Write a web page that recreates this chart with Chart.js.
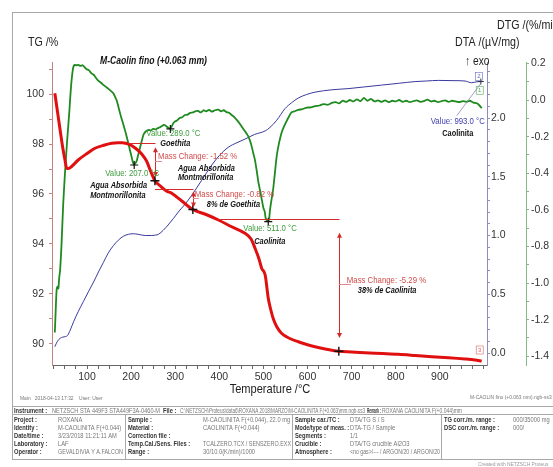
<!DOCTYPE html>
<html>
<head>
<meta charset="utf-8">
<title>M-Caolin fino (+0.063 mm) — TG / DTA / DTG</title>
<script src="https://cdn.jsdelivr.net/npm/chart.js@4.4.1/dist/chart.umd.min.js"></script>
<style>
  html, body { margin: 0; padding: 0; background: #fff; }
  canvas { display: block; }
</style>
</head>
<body>
<canvas id="c" width="553" height="467" style="width:553px;height:467px"></canvas>
<script>
// ---------------- measured curves ----------------
// TG: residual mass (%) against temperature (°C)
const tgTemp = [27,33,39,45,50,54,58,65,80,100,
                118,140,156,170,179,190,201,212,224,235,
                245,254,265,280,292,315,340,370,398,428,
                458,472,481,490,496,504,511,517,522,530,
                541,560,579,600,617,640,671,700,730,770,
                806,845,882,920,957,980,995];
const tgMass = [100.03,99.3,98.56,97.85,97.36,97.03,97.02,97.1,97.36,97.62,
                97.83,97.96,98.03,98.05,98.05,98.02,97.94,97.8,97.6,97.32,
                96.88,96.53,96.34,96.12,96.03,95.72,95.38,95.18,94.96,94.69,
                94.43,94.2,93.83,93.4,93.03,92.76,91.83,91.35,91.03,90.7,
                90.43,90.22,90.09,89.97,89.89,89.8,89.71,89.68,89.65,89.62,
                89.59,89.54,89.49,89.45,89.40,89.36,89.32];

// DTA: µV/mg against temperature (°C)
const dtaTemp = [27,33,39,45,50,56,62,70,80,92,
                 103,115,126,137,148,160,171,183,194,205,
                 216,232,247,255,262,273,284,296,307,322,
                 337,360,383,400,420,440,458,480,504,515,
                 530,549,564,579,598,617,655,692,730,768,
                 806,844,870,897,930,957,972,987,993];
const dtaSignal = [0.054,0.10,0.125,0.135,0.139,0.15,0.196,0.27,0.352,0.44,
                   0.52,0.605,0.69,0.77,0.85,0.915,0.96,0.995,1.01,1.015,
                   1.01,1.0,1.0,1.003,1.01,1.045,1.09,1.145,1.20,1.265,
                   1.34,1.47,1.60,1.68,1.75,1.79,1.82,1.86,1.89,1.92,
                   1.98,2.08,2.13,2.17,2.20,2.22,2.24,2.25,2.265,2.28,
                   2.295,2.31,2.315,2.32,2.318,2.315,2.30,2.31,2.31];

// DTG: %/min against temperature (°C)
const dtgTemp = [27,29,31,33,35,37,39,42,46,50,
                 55,60,63,66,69,72,76,80,85,90,
                 95,99,104,110,115,120,126,132,136,141,
                 148,156,160,164,167,171,175,180,186,192,
                 197,201,204,207,210,213,216,220,224,228,
                 233,239,245,250,256,262,266,270,274,277,
                 281,285,289,293,296,299,304,310,316,322,
                 328,334,340,345,352,358,364,370,377,383,
                 390,398,404,410,416,422,428,434,440,446,
                 451,458,466,472,477,481,485,488,492,496,
                 500,503,505,508,511,513,515,518,522,526,
                 530,535,541,546,552,558,564,570,579,588,
                 598,608,617,627,636,646,655,664,672,680,
                 688,696,704,712,720,728,736,744,752,760,
                 768,776,784,792,800,808,816,824,832,840,
                 848,856,864,872,880,888,896,904,912,920,
                 928,936,944,952,960,968,976,984,990,995];
const dtgRate = [-1.27,-1.15,-1.04,-1.02,-1.03,-0.97,-0.93,-0.80,-0.57,-0.40,
                 -0.22,-0.06,0.05,0.13,0.18,0.192,0.19,0.192,0.186,0.19,
                 0.178,0.168,0.163,0.146,0.138,0.122,0.104,0.094,0.084,0.076,
                 0.062,0.046,0.036,0.016,0.0,-0.035,-0.073,-0.115,-0.164,-0.22,
                 -0.27,-0.31,-0.34,-0.355,-0.345,-0.33,-0.30,-0.262,-0.225,-0.19,
                 -0.172,-0.164,-0.166,-0.158,-0.16,-0.152,-0.148,-0.142,-0.136,-0.138,
                 -0.146,-0.152,-0.158,-0.14,-0.126,-0.118,-0.112,-0.098,-0.094,-0.082,
                 -0.08,-0.07,-0.068,-0.062,-0.06,-0.068,-0.056,-0.062,-0.054,-0.064,
                 -0.056,-0.053,-0.062,-0.056,-0.066,-0.07,-0.082,-0.094,-0.11,-0.128,
                 -0.146,-0.17,-0.20,-0.24,-0.29,-0.33,-0.39,-0.44,-0.49,-0.54,
                 -0.59,-0.61,-0.645,-0.66,-0.665,-0.65,-0.60,-0.55,-0.49,-0.40,
                 -0.31,-0.24,-0.18,-0.148,-0.118,-0.09,-0.066,-0.062,-0.054,-0.05,
                 -0.042,-0.04,-0.034,-0.03,-0.022,-0.026,-0.016,-0.012,-0.018,-0.004,
                 -0.01,0.0,-0.008,0.004,-0.006,0.012,-0.004,0.006,-0.008,-0.002,
                 -0.01,-0.002,-0.012,-0.004,-0.008,0.0,-0.01,-0.004,-0.012,-0.006,
                 -0.002,-0.01,-0.006,0.002,-0.008,-0.004,-0.012,-0.006,-0.002,-0.01,
                 -0.004,-0.008,-0.012,-0.006,-0.01,-0.004,-0.014,-0.018,-0.03,-0.045];

// ---------------- evaluated events ----------------
const dtgPeakTemps = [207, 289, 511];
const dtgPeakNotes = [["Agua Absorbida", "Montmorillonita"], ["Goethita"], ["Caolinita"]];
const dtaPeakTemps = [993];
const dtaPeakNotes = [["Caolinita"]];

const massChangeTemps  = [254, 340, 671];      // where each step is read
const massRefStart     = [193, 254, 397];      // start of the reference level line
const massRefLevels    = [98.05, 96.20, 95.00]; // TG level before the step (%)
const massChangeValues = [-1.52, -0.82, -5.29]; // mass change (%)
const massChangeNotes  = [["Agua Absorbida", "Montmorillonita"], ["8% de Goethita"], ["38% de Caolinita"]];

// ---------------- axis ticks ----------------
const range = (a, b, step) => { const out = []; for (let v = a; v <= b + 1e-9; v += step) out.push(Math.round(v * 100) / 100); return out; };
const xTickValues   = range(25, 1000, 25);
const tgTickValues  = range(90, 101, 1);
const dtaTickValues = range(0, 2.4, 0.1);
const dtgTickValues = range(-1.4, 0.2, 0.1);

// ---------------- presentation ----------------
const SANS = '"Liberation Sans", Arial, sans-serif';
const SX = 0.82; // horizontal squeeze giving the narrow lettering
const C_TG = '#e01010', C_DTA = '#3a3a9e', C_DTG = '#1f8a1f';
const C_TG_AX = '#c48484', C_DTA_AX = '#8c8cc0', C_DTG_AX = '#86b886';

const pts = (xs, ys) => xs.map((x, i) => ({ x, y: ys[i] }));
const valueAt = (xs, ys, t) => ys[xs.indexOf(t)];

const tgCross  = massChangeTemps.map((t, i) => ({ x: t, y: massRefLevels[i] + massChangeValues[i] }));
const dtgCross = dtgPeakTemps.map(t => ({ x: t, y: valueAt(dtgTemp, dtgRate, t) }));
const dtaCross = dtaPeakTemps.map(t => ({ x: t, y: valueAt(dtaTemp, dtaSignal, t) }));

function fixedTicks(values) { return s => { s.ticks = values.map(v => ({ value: v })); }; }

function text(ctx, s, x, y, font, color, align, maxW) {
  ctx.save();
  ctx.translate(x, y); ctx.scale(SX, 1);
  ctx.font = font + ' ' + SANS; ctx.fillStyle = color; ctx.textAlign = align || 'left'; ctx.textBaseline = 'middle';
  if (maxW) ctx.fillText(s, 0, 0, maxW / SX); else ctx.fillText(s, 0, 0);
  ctx.restore();
}
function seg(ctx, x0, y0, x1, y1) { ctx.beginPath(); ctx.moveTo(x0, y0); ctx.lineTo(x1, y1); ctx.stroke(); }
function head(ctx, x, y, dir) { // dir: -1 up, +1 down
  ctx.beginPath(); ctx.moveTo(x, y); ctx.lineTo(x - 2.5, y - dir * 5); ctx.lineTo(x + 2.5, y - dir * 5); ctx.closePath(); ctx.fill();
}

const decorations = {
  id: 'decorations',
  beforeDraw(chart) {
    const ctx = chart.ctx;
    ctx.save(); ctx.fillStyle = '#fff'; ctx.fillRect(0, 0, chart.width, chart.height); ctx.restore();
  },
  afterDatasetsDraw(chart) {
    const { ctx } = chart; const { x, tg } = chart.scales;
    ctx.save();
    ctx.strokeStyle = '#d42a2a'; ctx.fillStyle = '#d42a2a'; ctx.lineWidth = 1;
    massChangeTemps.forEach((t, i) => {
      const xa = Math.round(x.getPixelForValue(t)) + 0.5;
      const x0 = x.getPixelForValue(massRefStart[i]);
      const y0 = Math.round(tg.getPixelForValue(massRefLevels[i])) + 0.5;
      const y1 = tg.getPixelForValue(massRefLevels[i] + massChangeValues[i]);
      seg(ctx, x0, y0, xa, y0);
      const gap = (y1 - y0) * 0.1;
      seg(ctx, xa, y0 + gap + 2, xa, y1 - gap - 2);
      head(ctx, xa, y0 + gap, -1);
      head(ctx, xa, y1 - gap, 1);
    });
    ctx.restore();
  },
  afterDraw(chart) {
    const { ctx } = chart; const { x, tg, dta, dtg } = chart.scales;
    ctx.save();

    // outer frame and table box
    ctx.strokeStyle = '#a8a8a8'; ctx.lineWidth = 1;
    ctx.strokeRect(12.5, 12.5, 560, 447);
    seg(ctx, 12, 406.5, 553, 406.5);
    seg(ctx, 12, 414.5, 553, 414.5);
    [125.5, 292.5, 441.5].forEach(cx => seg(ctx, cx, 414.5, cx, 460));

    // axis titles
    text(ctx, 'TG /%', 28, 42, '13px', '#222');
    text(ctx, 'DTG /(%/min)', 497, 25, '13px', '#222');
    text(ctx, 'DTA /(\u00b5V/mg)', 455, 42, '13px', '#222');
    text(ctx, '\u2191 exo', 465, 62, '12.5px', '#222');
    text(ctx, 'Temperature /\u00b0C', 270, 389, '13.5px', '#222', 'center');
    text(ctx, 'M-Caolin fino (+0.063 mm)', 100, 61, 'italic bold 10.5px', '#111');

    const BI = 'italic bold 9px';
    const SMALL = '9.5px';

    // DTG peaks
    const dtgOff = [{ dx: -29, dy: 8, nx: -44, ny: 21 }, { dx: -24, dy: 4, nx: -10, ny: 15 }, { dx: -25, dy: 7, nx: -14, ny: 20 }];
    dtgCross.forEach((p, i) => {
      const px = x.getPixelForValue(p.x), py = dtg.getPixelForValue(p.y), o = dtgOff[i];
      text(ctx, 'Value: ' + p.x.toFixed(1) + ' \u00b0C', px + o.dx, py + o.dy, SMALL, '#3f9d3f');
      dtgPeakNotes[i].forEach((n, k) => text(ctx, n, px + o.nx, py + o.ny + k * 10, BI, '#111'));
    });

    // DTA peak
    dtaCross.forEach((p, i) => {
      const px = x.getPixelForValue(p.x), py = dta.getPixelForValue(p.y);
      ctx.strokeStyle = '#8a8ab0'; ctx.lineWidth = 0.8;
      seg(ctx, px, py + 2, px - 24, py + 34);
      text(ctx, 'Value: ' + p.x.toFixed(1) + ' \u00b0C', px + 4, py + 40, SMALL, '#4040b0', 'right');
      dtaPeakNotes[i].forEach((n, k) => text(ctx, n, px - 23, py + 52 + k * 10, 'bold 9px', '#111', 'center'));
    });

    // mass changes
    const mcOff = [{ dx: 3, nx: 23, ny: 12 }, { dx: 2, nx: 14, ny: 10 }, { dx: 8, nx: 19, ny: 10 }];
    massChangeTemps.forEach((t, i) => {
      const xa = x.getPixelForValue(t);
      const y0 = tg.getPixelForValue(massRefLevels[i]);
      const y1 = tg.getPixelForValue(massRefLevels[i] + massChangeValues[i]);
      const ty = (y0 + y1) / 2 - 5, o = mcOff[i];
      ctx.strokeStyle = '#e08a8a'; ctx.lineWidth = 1;
      seg(ctx, xa, Math.round(ty + 4) + 0.5, xa + o.dx + 4, Math.round(ty + 4) + 0.5);
      text(ctx, 'Mass Change: ' + massChangeValues[i].toFixed(2) + ' %', xa + o.dx, ty, SMALL, '#d24a4a');
      massChangeNotes[i].forEach((n, k) => text(ctx, n, xa + o.nx, ty + o.ny + k * 9, BI, '#111'));
    });

    // curve tags at the end of each trace
    const tag = (s, px, py, col) => {
      ctx.font = '6px ' + SANS; ctx.fillStyle = col; ctx.textAlign = 'center'; ctx.textBaseline = 'middle';
      ctx.fillText(s, px, py);
      ctx.strokeStyle = col; ctx.lineWidth = 0.6; ctx.strokeRect(px - 3.5, py - 4, 7, 8);
    };
    const lastX = t => x.getPixelForValue(t[t.length - 1]) - 2;
    tag('2', lastX(dtaTemp), dta.getPixelForValue(dtaSignal[dtaSignal.length - 1]) - 5, '#6a6ac8');
    tag('1', lastX(dtgTemp), dtg.getPixelForValue(dtgRate[dtgRate.length - 1]) - 18, '#5aaa5a');
    tag('3', lastX(tgTemp), tg.getPixelForValue(tgMass[tgMass.length - 1]) - 11, '#d86a6a');

    // footer lines
    text(ctx, 'Main   2018-04-13 17:32    User: User', 20, 398, '6px', '#777');
    text(ctx, 'M-CAOLIN fino (+0.063 mm).ngb-ss3', 470, 397, '6px', '#777');
    text(ctx, 'Created with NETZSCH Proteus', 478, 464, '6px', '#999');

    // table
    const put = (s, px, py, bold, maxW) => text(ctx, s, px, py, bold ? 'bold 7px' : '7px', bold ? '#333' : '#777', 'left', maxW);
    put('Instrument :', 14, 411, true, 40);
    put('NETZSCH STA 449F3 STA449F3A-0460-M', 52, 411, false, 108);
    put('File :', 163, 411, true, 16);
    put('C:\\NETZSCH\\Proteus\\data6\\ROXANA 2018\\MARZO\\M-CAOLINITA F(+0.063)mm.ngb-ss3', 180, 411, false, 185);
    put('Remark :', 367, 411, true, 14);
    put('ROXANA CAOLINITA F(+0.044)mm', 382, 411, false, 80);
    const rows = [
      ['Project :', 'ROXANA', 'Sample :', 'M-CAOLINITA F(+0.044), 22.0 mg', 'Sample car./TC :', 'DTA/TG S / S', 'TG corr./m. range :', '000/35000 mg'],
      ['Identity :', 'M-CAOLINITA F(+0.044)', 'Material :', 'CAOLINITA F(+0.044)', 'Mode/type of meas. :', 'DTA-TG / Sample', 'DSC corr./m. range :', '000/'],
      ['Date/time :', '3/23/2018 11:21:11 AM', 'Correction file :', '', 'Segments :', '1/1', '', ''],
      ['Laboratory :', 'LAF', 'Temp.Cal./Sens. Files :', 'TCALZERO.TCX / SENSZERO.EXX', 'Crucible :', 'DTA/TG crucible Al2O3', '', ''],
      ['Operator :', 'GEVALDIVIA Y A.FALCON', 'Range :', '30/10.0(K/min)/1000', 'Atmosphere :', '<no gas>/--- / ARGON/20 / ARGON/20', '', '']
    ];
    rows.forEach((r, k) => {
      const yy = 420.5 + k * 8;
      put(r[0], 14, yy, true, 42); put(r[1], 58, yy, false, 65);
      put(r[2], 128, yy, true, 74); put(r[3], 203, yy, false, 88);
      put(r[4], 295, yy, true, 54); put(r[5], 350, yy, false, 90);
      if (r[6]) { put(r[6], 444, yy, true, 68); put(r[7], 513, yy, false, 45); }
    });
    ctx.restore();
  }
};

const tickFont = { family: SANS, size: 10.5 };

new Chart(document.getElementById('c'), {
  type: 'line',
  data: {
    datasets: [
      { label: 'TG marks', data: tgCross, yAxisID: 'tg', showLine: false, pointStyle: 'cross', pointRadius: 4.5, borderColor: '#111', borderWidth: 1.4, order: 0 },
      { label: 'DTG marks', data: dtgCross, yAxisID: 'dtg', showLine: false, pointStyle: 'cross', pointRadius: 4, borderColor: '#111', borderWidth: 1.2, order: 0 },
      { label: 'DTA marks', data: dtaCross, yAxisID: 'dta', showLine: false, pointStyle: 'cross', pointRadius: 3, borderColor: '#333', borderWidth: 1, order: 0 },
      { label: 'TG', data: pts(tgTemp, tgMass), yAxisID: 'tg', borderColor: C_TG, borderWidth: 3, pointRadius: 0, cubicInterpolationMode: 'monotone', order: 1 },
      { label: 'DTG', data: pts(dtgTemp, dtgRate), yAxisID: 'dtg', borderColor: C_DTG, borderWidth: 1.8, pointRadius: 0, tension: 0.2, order: 2 },
      { label: 'DTA', data: pts(dtaTemp, dtaSignal), yAxisID: 'dta', borderColor: C_DTA, borderWidth: 1, pointRadius: 0, cubicInterpolationMode: 'monotone', order: 3 }
    ]
  },
  options: {
    responsive: false,
    animation: false,
    devicePixelRatio: 1,
    layout: { padding: { left: 0, right: 0, top: 62, bottom: 72 } },
    plugins: { legend: { display: false }, tooltip: { enabled: false } },
    elements: { line: { fill: false } },
    scales: {
      x: {
        type: 'linear', position: 'bottom', min: 20.6, max: 1007,
        afterBuildTicks: fixedTicks(xTickValues),
        afterFit: s => { s.height = 30; },
        grid: { drawOnChartArea: false, tickLength: 4, color: '#666' },
        border: { color: '#666' },
        ticks: { autoSkip: false, maxRotation: 0, padding: 2, color: '#333', font: tickFont,
                 callback: v => (v % 100 === 0 && v < 1000) ? String(v) : '' }
      },
      tg: {
        type: 'linear', position: 'left', min: 89.16, max: 101.28,
        afterBuildTicks: fixedTicks(tgTickValues),
        afterFit: s => { s.width = 52; },
        grid: { drawOnChartArea: false, tickLength: 3, color: C_TG_AX },
        border: { color: C_TG_AX },
        ticks: { autoSkip: false, padding: 5, color: '#333', font: tickFont,
                 callback: v => (v % 2 === 0) ? String(v) : '' }
      },
      dta: {
        type: 'linear', position: 'right', weight: 1, min: -0.1021, max: 2.4766,
        afterBuildTicks: fixedTicks(dtaTickValues),
        afterFit: s => { s.width = 39; },
        grid: { drawOnChartArea: false, tickLength: 3, color: C_DTA_AX },
        border: { color: C_DTA_AX },
        ticks: { autoSkip: false, padding: 1, color: '#333', font: tickFont,
                 callback: v => (Math.round(v * 10) % 5 === 0) ? v.toFixed(1) : '' }
      },
      dtg: {
        type: 'linear', position: 'right', weight: 2, min: -1.448, max: 0.2077,
        afterBuildTicks: fixedTicks(dtgTickValues),
        afterFit: s => { s.width = 27; },
        grid: { drawOnChartArea: false, tickLength: 3, color: C_DTG_AX },
        border: { color: C_DTG_AX },
        ticks: { autoSkip: false, padding: 2, color: '#333', font: tickFont,
                 callback: v => (Math.round(v * 10) % 2 === 0) ? v.toFixed(1) : '' }
      }
    }
  },
  plugins: [decorations]
});
</script>
</body>
</html>
